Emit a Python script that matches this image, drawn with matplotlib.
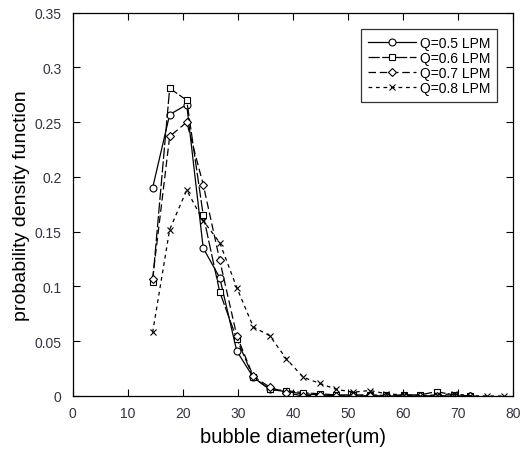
import matplotlib.pyplot as plt

plt.rcParams['font.family'] = ['Liberation Sans', 'DejaVu Sans']

# bubble diameter bins (um)
diam = [14.5, 17.6, 20.7, 23.7, 26.7, 29.8, 32.8, 35.8, 38.8, 41.9, 44.9,
        47.9, 51.0, 54.0, 57.0, 60.1, 63.1, 66.1, 69.2, 72.2, 75.2, 78.3]

q05 = [0.190, 0.257, 0.266, 0.135, 0.108, 0.041, 0.017, 0.006, 0.004, 0.002,
       0.001, 0.0, 0.0, 0.0, 0.0, 0.0, 0.0, 0.0, 0.0, 0.0]
q06 = [0.104, 0.281, 0.270, 0.165, 0.095, 0.052, 0.017, 0.006, 0.005, 0.003,
       0.002, 0.001, 0.001, 0.001, 0.0005, 0.001, 0.001, 0.004, 0.001, 0.0]
q07 = [0.107, 0.237, 0.250, 0.193, 0.124, 0.055, 0.018, 0.008, 0.003, 0.0,
       0.001, 0.0, 0.0, 0.0, 0.0, 0.0, 0.0, 0.0, 0.0, 0.0]
q08 = [0.058, 0.152, 0.188, 0.160, 0.140, 0.099, 0.063, 0.055, 0.034, 0.017,
       0.0115, 0.006, 0.0035, 0.005, 0.002, 0.001, 0.0003, 0.001, 0.002, 0.0003,
       0.0, 0.0]

fig = plt.figure(figsize=(5.24, 4.52), dpi=100)
ax = fig.add_axes([0.139, 0.1217, 0.840, 0.848])

ms = 5
ax.plot(diam[:len(q05)], q05, color='black', lw=0.9, marker='o', ms=ms,
        mfc='white', mew=0.8, label='Q=0.5 LPM')
ax.plot(diam[:len(q06)], q06, color='black', lw=0.9, marker='s', ms=ms,
        mfc='white', mew=0.8, dashes=(9, 2), label='Q=0.6 LPM')
ax.plot(diam[:len(q07)], q07, color='black', lw=0.9, marker='D', ms=4,
        mfc='white', mew=0.8, dashes=(6, 3), label='Q=0.7 LPM')
ax.plot(diam[:len(q08)], q08, color='black', lw=0.9, marker='x', ms=ms,
        mew=0.8, dashes=(3, 3), label='Q=0.8 LPM')

ax.set_xlim(0, 80)
ax.set_ylim(0, 0.35)
ax.set_xticks(range(0, 81, 10))
ax.set_yticks([0, 0.05, 0.1, 0.15, 0.2, 0.25, 0.3, 0.35])
ax.set_yticklabels(['0', '0.05', '0.1', '0.15', '0.2', '0.25', '0.3', '0.35'])
ax.tick_params(direction='in', top=True, right=True, length=5, width=0.8,
               labelsize=10, labelcolor='#333344')
ax.tick_params(axis='y', pad=8)
ax.tick_params(axis='x', pad=7)
for s in ax.spines.values():
    s.set_linewidth(0.9)

ax.set_xlabel('bubble diameter(um)', fontsize=14.5, labelpad=5)
ax.set_ylabel('probability density function', fontsize=14, labelpad=3)

leg = ax.legend(loc='upper right', bbox_to_anchor=(0.964, 0.958), fontsize=10,
                frameon=True, fancybox=False, edgecolor='black',
                handlelength=3.5, handletextpad=0.25, borderpad=0.5,
                borderaxespad=0, labelspacing=0.08)
leg.get_frame().set_linewidth(0.9)

plt.savefig('out.png', dpi=100)
